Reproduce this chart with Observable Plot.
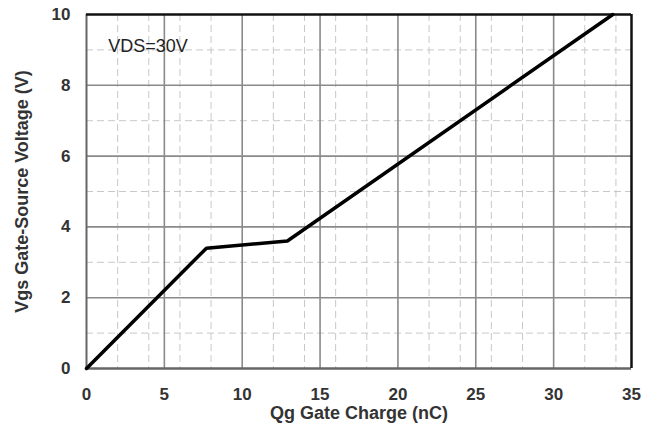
<!DOCTYPE html>
<html><head><meta charset="utf-8">
<script src="https://cdn.jsdelivr.net/npm/d3@7"></script>
<script src="https://cdn.jsdelivr.net/npm/@observablehq/plot@0.6"></script>
<style>body{margin:0;background:#fff}</style>
</head><body><div id="chart"></div>
<script>
const qg = [0, 7.7, 12.9, 33.8];
const vgs = [0, 3.4, 3.6, 10];
const xMajor = [0, 5, 10, 15, 20, 25, 30, 35];
const yMajor = [0, 2, 4, 6, 8, 10];
const xMinor = [2, 4, 6, 8, 12, 14, 16, 18, 22, 24, 26, 28, 32, 34];
const yMinor = [1, 3, 5, 7, 9];
const annotation = [{x: 1.4, y: 9.1, text: "VDS=30V"}];
const xLabel = "Qg Gate Charge (nC)";
const yLabel = "Vgs Gate-Source Voltage (V)";

const data = qg.map((q, i) => ({q, v: vgs[i]}));

const chart = Plot.plot({
  width: 652, height: 426,
  marginLeft: 86, marginRight: 21, marginTop: 14, marginBottom: 58,
  style: {fontFamily: "'Liberation Sans', Arial, sans-serif", background: "#fff"},
  x: {domain: [0, 35]},
  y: {domain: [0, 10]},
  marks: [
    Plot.ruleX(xMinor, {stroke: "#c8c8c8", strokeWidth: 1, strokeDasharray: "7,4"}),
    Plot.ruleY(yMinor, {stroke: "#c8c8c8", strokeWidth: 1, strokeDasharray: "7,4"}),
    Plot.ruleX(xMajor.slice(1, -1), {stroke: "#8a8a8a", strokeWidth: 1.6}),
    Plot.ruleY(yMajor.slice(1, -1), {stroke: "#8a8a8a", strokeWidth: 1.6}),
    Plot.ruleX([0], {stroke: "#666", strokeWidth: 2}),
    Plot.ruleY([0], {stroke: "#666", strokeWidth: 2.5}),
    Plot.ruleX([35], {stroke: "#111", strokeWidth: 2.5}),
    Plot.ruleY([10], {stroke: "#111", strokeWidth: 2.5}),
    Plot.line(data, {x: "q", y: "v", stroke: "#000", strokeWidth: 3.5, strokeLinejoin: "miter"}),
    Plot.text(annotation, {x: "x", y: "y", text: "text", textAnchor: "start", fontSize: 18, fill: "#222"}),
    Plot.axisX({ticks: xMajor, tickSize: 0, tickPadding: 19, fontSize: 17, fontWeight: "bold", fill: "#333", label: null}),
    Plot.axisY({ticks: yMajor, tickSize: 0, tickPadding: 16, fontSize: 17, fontWeight: "bold", fill: "#333", label: null}),
    Plot.text([xLabel], {frameAnchor: "bottom", textAnchor: "middle", lineAnchor: "middle", dy: 45, fontSize: 18, fontWeight: "bold", fill: "#333"}),
    Plot.text([yLabel], {frameAnchor: "left", textAnchor: "middle", lineAnchor: "middle", dx: -64, rotate: -90, fontSize: 18, fontWeight: "bold", fill: "#333"})
  ]
});
document.getElementById("chart").appendChild(chart);
</script>
</body></html>
